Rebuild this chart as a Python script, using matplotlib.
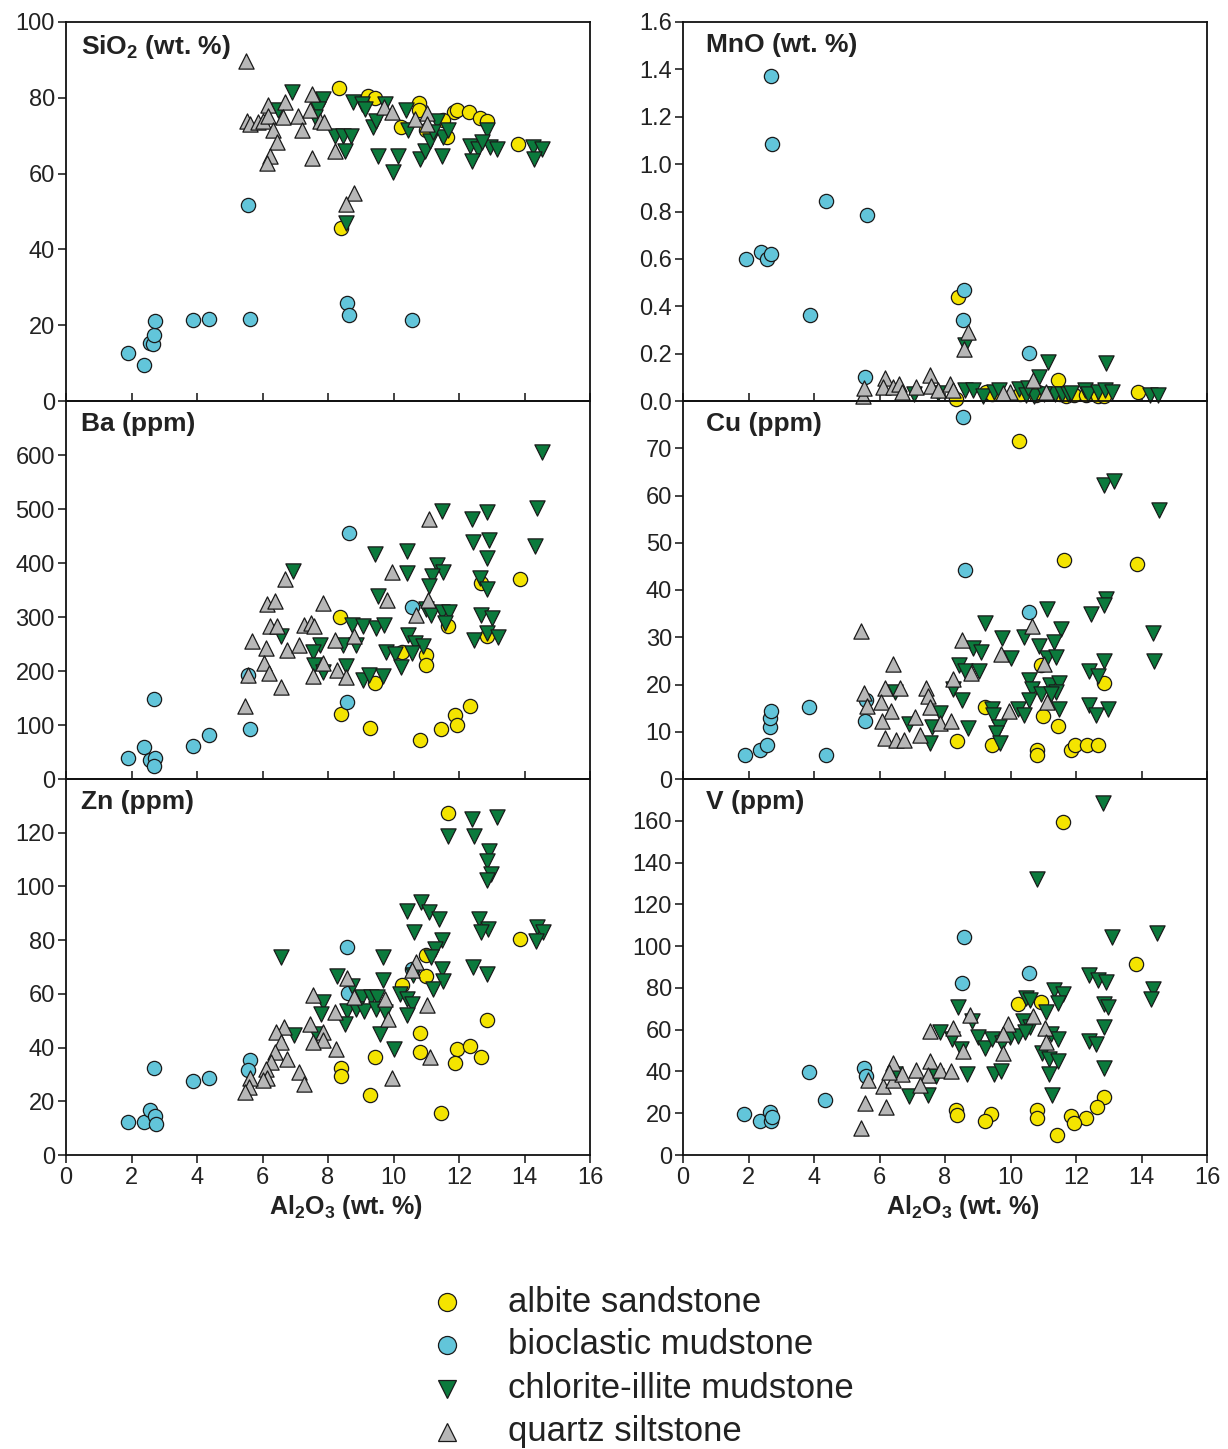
import matplotlib
matplotlib.use("Agg")
import matplotlib.pyplot as plt
from matplotlib.lines import Line2D
from matplotlib.ticker import FormatStrFormatter

plt.rcParams["font.family"] = ["Liberation Sans", "DejaVu Sans"]
plt.rcParams["mathtext.fontset"] = "custom"
plt.rcParams["mathtext.rm"] = "Liberation Sans"
plt.rcParams["mathtext.bf"] = "Liberation Sans:bold"

# (Al2O3 wt.%, value) pairs
sio2_albite = [(8.35, 82.7), (9.23, 80.4), (9.43, 80.0), (10.79, 78.7), (10.79, 76.7), (11.85, 76.3),
               (11.93, 76.8), (12.3, 76.2), (12.64, 74.7), (12.85, 73.8), (10.22, 72.4), (10.99, 71.5),
               (11.5, 74.2), (11.64, 69.6), (13.81, 67.8), (8.39, 45.6)]
sio2_bioclastic = [(1.89, 12.6), (2.37, 9.6), (2.56, 15.2), (2.66, 15.0), (2.70, 17.5), (2.72, 21.2),
                   (3.89, 21.4), (4.37, 21.7), (5.62, 21.6), (5.56, 51.6), (8.57, 25.8), (8.63, 22.7),
                   (10.58, 21.5)]
sio2_chlorite = [(6.89, 81.5), (7.86, 79.8), (7.7, 77.1), (6.48, 76.7), (7.6, 74.9), (8.77, 78.9),
                 (9.03, 78.4), (9.13, 77.1), (8.21, 70.0), (8.47, 70.0), (8.69, 69.8), (8.52, 66.0),
                 (9.38, 72.2), (9.48, 74.0), (9.74, 78.4), (9.54, 64.7), (10.15, 64.7), (9.99, 60.3),
                 (10.38, 76.7), (10.45, 71.4), (10.81, 63.8), (10.96, 66.0), (11.11, 68.7), (11.32, 74.0),
                 (11.47, 64.7), (11.52, 69.6), (11.67, 71.4), (11.22, 70.9), (12.34, 67.4), (12.59, 66.5),
                 (12.85, 71.4), (12.95, 66.9), (13.15, 66.5), (12.39, 63.4), (12.69, 68.3), (14.27, 66.9),
                 (14.52, 66.5), (14.29, 63.8), (8.55, 47.0)]
sio2_quartz = [(5.49, 89.8), (7.5, 81.1), (6.18, 78.0), (6.69, 78.9), (5.52, 74.0), (5.62, 73.1),
               (5.87, 73.6), (6.02, 74.0), (6.18, 75.3), (6.31, 71.4), (6.43, 68.3), (6.23, 64.7),
               (6.13, 62.9), (6.64, 74.9), (7.09, 75.3), (7.2, 71.4), (7.45, 76.7), (7.76, 74.0),
               (7.88, 73.6), (7.5, 64.1), (8.21, 66.0), (9.71, 77.5), (9.94, 76.2), (10.66, 74.5),
               (11.03, 75.9), (11.01, 73.1), (8.79, 54.9), (8.56, 51.9)]

mno_albite = [(8.39, 0.44), (11.44, 0.09), (13.88, 0.04), (8.34, 0.01), (9.26, 0.04), (9.45, 0.03),
              (10.3, 0.03), (10.78, 0.025), (10.85, 0.04), (11.5, 0.03), (11.68, 0.02), (11.9, 0.03),
              (11.95, 0.025), (12.31, 0.025), (12.66, 0.02), (12.87, 0.02)]
mno_bioclastic = [(1.92, 0.60), (2.39, 0.63), (2.58, 0.60), (2.68, 0.62), (2.68, 1.37), (2.73, 1.085),
                  (3.89, 0.365), (4.37, 0.846), (5.61, 0.785), (8.59, 0.47), (8.56, 0.344),
                  (5.56, 0.103), (10.58, 0.202)]
mno_chlorite = [(8.6, 0.236), (11.14, 0.166), (12.92, 0.159), (10.86, 0.103), (7.05, 0.03), (7.8, 0.035),
                (8.6, 0.045), (8.85, 0.045), (9.15, 0.02), (9.5, 0.04), (9.65, 0.045), (10.27, 0.05),
                (10.47, 0.025), (10.73, 0.02), (11.35, 0.03), (11.56, 0.03), (11.76, 0.03), (12.28, 0.045),
                (12.38, 0.03), (12.68, 0.04), (12.89, 0.045), (13.09, 0.04), (14.25, 0.025), (14.5, 0.025),
                (10.52, 0.055), (11.03, 0.03), (11.86, 0.035)]
mno_quartz = [(8.7, 0.293), (8.57, 0.218), (5.5, 0.02), (5.53, 0.055), (6.16, 0.096), (6.1, 0.06),
              (6.41, 0.06), (6.6, 0.07), (6.7, 0.04), (7.12, 0.06), (7.53, 0.11), (7.58, 0.065),
              (7.8, 0.045), (8.15, 0.07), (8.25, 0.045), (10.68, 0.089), (9.98, 0.04), (9.78, 0.035),
              (11.08, 0.04)]

ba_albite = [(8.37, 300), (13.87, 371), (12.66, 363), (11.65, 283), (11.0, 230), (11.0, 212), (10.26, 236),
             (9.44, 178), (8.39, 120), (9.28, 95), (10.82, 72), (11.45, 93), (11.87, 119), (11.95, 100),
             (12.35, 136), (12.87, 264)]
ba_bioclastic = [(1.89, 38), (2.37, 60), (2.56, 35), (2.71, 38), (2.68, 24), (2.68, 148), (3.89, 62),
                 (4.37, 82), (5.62, 93), (8.64, 456), (8.57, 142), (10.58, 319), (5.56, 193)]
ba_chlorite = [(14.53, 605), (14.37, 502), (14.32, 431), (11.47, 496), (12.39, 481), (12.87, 494),
               (12.42, 439), (12.92, 442), (12.87, 410), (9.44, 416), (10.42, 423), (10.42, 382),
               (11.34, 397), (11.51, 383), (11.19, 376), (11.08, 357), (12.63, 373), (12.87, 352),
               (9.53, 338), (11.0, 314), (11.16, 304), (11.47, 309), (11.68, 309), (11.58, 289),
               (12.68, 304), (13.0, 298), (12.87, 270), (12.47, 257), (13.19, 263), (6.93, 385),
               (6.55, 265), (8.74, 286), (9.08, 283), (9.47, 280), (9.72, 286), (8.47, 249), (8.87, 249),
               (7.76, 249), (7.53, 235), (10.45, 267), (10.66, 252), (10.89, 247), (10.56, 233),
               (9.77, 236), (10.05, 232), (10.24, 207), (7.58, 212), (7.86, 199), (8.56, 209),
               (9.08, 184), (9.26, 193), (9.68, 190)]
ba_quartz = [(11.08, 482), (9.95, 383), (6.68, 371), (6.14, 325), (6.39, 329), (7.86, 326), (9.79, 331),
             (10.68, 304), (11.05, 331), (6.24, 283), (6.45, 283), (7.26, 286), (7.47, 289), (7.58, 283),
             (5.68, 255), (6.11, 243), (6.74, 239), (7.11, 249), (8.21, 258), (8.79, 264), (6.05, 215),
             (6.21, 196), (5.56, 193), (6.56, 171), (7.84, 215), (7.53, 190), (8.26, 202), (8.56, 189),
             (5.47, 136)]

cu_albite = [(10.26, 71.5), (11.63, 46.4), (13.86, 45.4), (12.86, 20.3), (8.37, 8.1), (9.23, 15.3),
             (9.42, 7.2), (11.0, 13.4), (11.44, 11.2), (10.81, 6.1), (10.81, 5.1), (11.86, 6.1),
             (11.97, 7.2), (12.34, 7.2), (12.68, 7.2), (10.92, 24.2)]
cu_bioclastic = [(8.55, 76.6), (8.62, 44.3), (10.58, 35.3), (1.88, 5.1), (2.36, 6.1), (2.57, 7.2),
                 (2.67, 11.1), (2.67, 12.9), (2.68, 14.3), (3.86, 15.2), (4.37, 5.1), (5.55, 12.2),
                 (5.6, 16.7)]
cu_chlorite = [(12.86, 62.3), (13.16, 63.0), (14.52, 57.0), (12.92, 38.0), (12.86, 36.9), (12.47, 35.0),
               (11.1, 36.0), (9.23, 33.0), (11.53, 31.7), (10.42, 30.0), (9.74, 29.8), (11.34, 29.1),
               (14.34, 30.9), (14.37, 24.9), (8.86, 27.7), (9.11, 26.8), (10.02, 25.6), (10.86, 28.1),
               (11.1, 25.6), (11.39, 25.9), (8.44, 24.2), (8.6, 22.8), (9.04, 22.8), (12.86, 24.9),
               (12.41, 22.8), (12.68, 21.7), (10.55, 21.0), (10.66, 19.0), (11.21, 19.9), (11.49, 20.3),
               (11.38, 18.5), (8.23, 19.0), (8.52, 16.8), (10.58, 16.8), (10.92, 17.9), (11.23, 17.9),
               (9.44, 14.8), (10.23, 14.8), (10.42, 13.6), (11.49, 14.8), (12.39, 15.7), (12.6, 13.6),
               (12.97, 14.8), (7.86, 13.9), (7.6, 11.1), (6.89, 11.7), (6.47, 18.5), (8.71, 10.7),
               (9.46, 13.6), (9.65, 11.1), (9.55, 9.7), (9.68, 7.7), (7.53, 7.7)]
cu_quartz = [(5.44, 31.4), (6.41, 24.4), (8.52, 29.5), (10.65, 32.4), (9.71, 26.5), (11.02, 24.4),
             (8.23, 21.1), (8.79, 22.4), (5.53, 18.2), (6.18, 19.2), (6.63, 19.2), (7.42, 19.2),
             (5.63, 15.5), (6.05, 16.4), (6.34, 14.3), (7.49, 17.5), (7.53, 15.3), (7.07, 13.2),
             (6.07, 12.2), (7.84, 11.9), (8.18, 12.2), (6.18, 8.6), (6.49, 8.3), (6.76, 8.3),
             (7.23, 9.3), (9.95, 14.3), (11.1, 16.4)]

zn_albite = [(11.65, 127.5), (13.87, 80.4), (11.0, 74.3), (11.0, 66.5), (10.26, 63.4), (12.87, 50.4),
             (10.82, 45.4), (10.82, 38.4), (9.44, 36.5), (11.95, 39.4), (11.87, 34.4), (12.35, 40.5),
             (12.68, 36.5), (8.39, 32.4), (8.39, 29.3), (9.28, 22.5), (11.45, 15.5)]
zn_bioclastic = [(1.89, 12.4), (2.37, 12.4), (2.58, 16.7), (2.71, 14.6), (2.74, 11.4), (2.68, 32.4),
                 (3.89, 27.5), (4.37, 28.5), (5.62, 35.3), (5.56, 31.6), (8.57, 77.4), (8.61, 60.4),
                 (10.58, 69.3)]
zn_chlorite = [(12.4, 125.0), (13.16, 126.0), (11.65, 118.8), (12.47, 118.8), (12.93, 113.2),
               (12.87, 109.5), (12.98, 104.6), (12.87, 102.5), (10.84, 94.1), (11.08, 90.6), (10.42, 91.0),
               (11.39, 87.9), (12.61, 87.9), (12.89, 84.2), (12.68, 82.9), (14.37, 84.8), (14.56, 82.9),
               (14.35, 79.8), (10.63, 82.9), (11.47, 80.2), (11.26, 76.7), (11.16, 73.6), (12.42, 69.9),
               (12.87, 67.4), (11.47, 69.3), (11.51, 64.7), (11.21, 61.9), (10.6, 67.1), (6.55, 73.6),
               (9.68, 73.6), (9.68, 65.0), (8.26, 66.8), (8.74, 63.1), (10.21, 60.0), (10.42, 58.2),
               (10.58, 56.3), (10.42, 52.2), (9.05, 58.8), (9.32, 58.8), (9.51, 58.8), (7.84, 56.9),
               (7.79, 52.6), (8.58, 53.8), (8.84, 54.5), (9.11, 53.8), (9.47, 54.5), (9.74, 53.2),
               (8.53, 48.9), (6.95, 44.6), (7.63, 45.2), (9.58, 45.2), (10.03, 39.6)]
zn_quartz = [(10.68, 71.8), (10.58, 68.9), (11.03, 55.9), (11.11, 36.5), (9.95, 28.7), (8.58, 65.8),
             (8.79, 58.8), (9.74, 58.2), (9.82, 50.7), (7.55, 59.4), (8.21, 53.2), (7.44, 48.9),
             (7.84, 45.8), (7.84, 42.7), (7.53, 42.1), (8.24, 39.6), (6.66, 47.6), (6.42, 45.8),
             (6.58, 42.1), (6.37, 38.4), (6.26, 34.7), (6.74, 35.9), (6.11, 32.2), (6.14, 28.7),
             (6.03, 27.8), (7.11, 30.9), (7.26, 26.6), (5.63, 28.5), (5.58, 25.4), (5.47, 23.3)]

v_albite = [(11.6, 159.5), (13.84, 91.3), (10.23, 72.3), (10.94, 73.3), (12.86, 27.7), (12.65, 22.8),
            (12.32, 17.7), (11.86, 18.5), (11.95, 15.3), (11.42, 9.6), (10.81, 21.7), (10.81, 17.7),
            (9.39, 19.6), (9.23, 16.4), (8.34, 21.7), (8.37, 19.3)]
v_bioclastic = [(1.86, 19.6), (2.34, 16.4), (2.65, 20.4), (2.68, 16.4), (2.72, 18.0), (3.84, 39.7),
                (4.34, 26.5), (5.53, 41.5), (5.6, 37.8), (8.58, 104.5), (8.53, 82.5), (10.55, 87.3)]
v_chlorite = [(12.83, 168.5), (10.81, 132.2), (13.11, 104.5), (14.47, 106.4), (14.34, 79.6), (14.28, 74.8),
              (12.39, 86.0), (12.68, 83.9), (12.92, 82.8), (12.86, 72.3), (12.97, 70.7), (12.84, 61.1),
              (12.86, 41.8), (12.39, 54.7), (12.6, 53.1), (11.34, 79.1), (11.6, 77.3), (11.44, 72.7),
              (10.47, 75.2), (10.6, 74.0), (10.39, 64.3), (10.6, 61.1), (11.07, 68.3), (10.97, 49.0),
              (11.18, 45.8), (11.44, 45.0), (11.23, 57.9), (11.44, 55.5), (11.18, 38.6), (11.28, 28.9),
              (8.39, 70.7), (8.81, 64.3), (7.84, 58.7), (8.21, 55.5), (8.49, 50.6), (9.0, 56.3),
              (9.21, 51.4), (9.42, 55.5), (9.74, 53.8), (9.97, 56.3), (10.23, 57.1), (10.44, 58.7),
              (8.68, 38.6), (9.49, 38.6), (9.71, 40.2), (6.89, 28.1), (7.49, 28.6), (6.47, 38.6),
              (7.74, 37.8)]
v_quartz = [(5.45, 12.7), (5.55, 24.7), (6.21, 23.1), (5.65, 36.0), (6.11, 32.8), (6.41, 44.0),
            (6.41, 36.0), (6.7, 38.9), (6.29, 39.6), (7.12, 40.8), (7.53, 44.8), (7.48, 38.4),
            (7.84, 40.8), (7.23, 33.6), (8.19, 40.0), (7.53, 59.3), (8.24, 60.9), (8.55, 49.6),
            (8.77, 67.0), (9.77, 48.8), (9.92, 62.5), (10.68, 66.5), (11.04, 60.9), (11.07, 54.0),
            (9.76, 57.9)]

labels = ["albite sandstone", "bioclastic mudstone", "chlorite-illite mudstone", "quartz siltstone"]
colors = ["#f4e400", "#62c5da", "#0b7a3c", "#b7b7b7"]
markers = ["o", "o", "v", "^"]
draw_order = [1, 0, 3, 2]   # bioclastic, albite, quartz, chlorite on top

panels = [
    # label, groups, ylim, yticks, fmt, column, row
    (r"$\mathbf{SiO_2}$ (wt. %)", [sio2_albite, sio2_bioclastic, sio2_chlorite, sio2_quartz],
     (0, 100), range(0, 101, 20), "%d", 0, 0),
    (r"MnO (wt. %)", [mno_albite, mno_bioclastic, mno_chlorite, mno_quartz],
     (0, 1.6), [i * 0.2 for i in range(9)], "%.1f", 1, 0),
    (r"Ba (ppm)", [ba_albite, ba_bioclastic, ba_chlorite, ba_quartz],
     (0, 700), range(0, 601, 100), "%d", 0, 1),
    (r"Cu (ppm)", [cu_albite, cu_bioclastic, cu_chlorite, cu_quartz],
     (0, 80), range(0, 71, 10), "%d", 1, 1),
    (r"Zn (ppm)", [zn_albite, zn_bioclastic, zn_chlorite, zn_quartz],
     (0, 140), range(0, 121, 20), "%d", 0, 2),
    (r"V (ppm)", [v_albite, v_bioclastic, v_chlorite, v_quartz],
     (0, 180), range(0, 161, 20), "%d", 1, 2),
]

W, H = 1228, 1449
fig = plt.figure(figsize=(W / 100, H / 100), dpi=100)

col_left = [66, 683]
col_width = 524
label_x = [0.029, 0.044]
row_top = [22, 401, 779]
row_height = [379, 378, 376]

TXT = "#222222"

for label, groups, ylim, yticks, fmt, col, row in panels:
    left = col_left[col] / W
    bottom = 1 - (row_top[row] + row_height[row]) / H
    ax = fig.add_axes([left, bottom, col_width / W, row_height[row] / H])
    ax.set_facecolor("none")

    for g in draw_order:
        pts = groups[g]
        xs = [p[0] for p in pts]
        ys = [p[1] for p in pts]
        ax.scatter(xs, ys, s=105 if markers[g] == "o" else 120, marker=markers[g],
                   c=colors[g], edgecolors="#1a1a1a", linewidths=0.9, clip_on=False, zorder=3 + g)

    ax.set_xlim(0, 16)
    ax.set_ylim(*ylim)
    ax.set_yticks(list(yticks))
    ax.yaxis.set_major_formatter(FormatStrFormatter(fmt))
    ax.set_xticks(range(0, 17, 2))

    for sp in ax.spines.values():
        sp.set_linewidth(1.3)
        sp.set_color("#111111")

    ax.tick_params(axis="y", direction="out", length=6, width=1.1, labelsize=17,
                   colors="#111111", labelcolor=TXT, pad=2)
    if row < 2:
        ax.tick_params(axis="x", direction="in", length=6, width=1.1, labelbottom=False,
                       colors="#111111")
    else:
        ax.tick_params(axis="x", direction="out", length=6, width=1.1, labelsize=17,
                       colors="#111111", labelcolor=TXT, pad=3)
        ax.set_xlabel(r"$\mathbf{Al_2O_3}$ (wt. %)", fontsize=18, fontweight="bold", color=TXT)
        ax.xaxis.set_label_coords(0.535, -0.1)

    ax.text(label_x[col], 0.97, label, transform=ax.transAxes, ha="left", va="top",
            fontsize=19, fontweight="bold", color=TXT)

# legend, drawn in figure coordinates
leg_rows = [1302, 1345, 1389, 1432]
for i in range(4):
    y = 1 - leg_rows[i] / H
    fig.add_artist(Line2D([447 / W], [y], transform=fig.transFigure, marker=markers[i],
                          markersize=13, markerfacecolor=colors[i], markeredgecolor="#1a1a1a",
                          markeredgewidth=0.9, linestyle="none"))
    fig.text(508 / W, y, labels[i], ha="left", va="center", fontsize=25, color=TXT)

fig.savefig("out.png", dpi=100)
